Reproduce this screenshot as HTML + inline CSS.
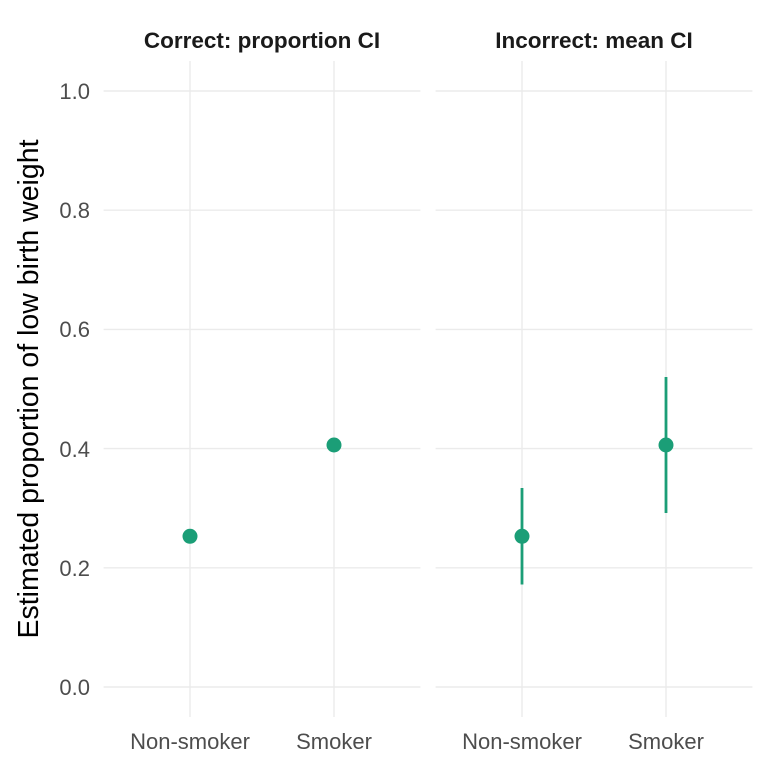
<!DOCTYPE html>
<html><head><style>body{margin:0;background:#fff}</style></head><body>
<svg width="768" height="768" xmlns="http://www.w3.org/2000/svg" font-family="Liberation Sans, sans-serif">
<rect width="768" height="768" fill="#fff"/>
<g stroke="#ebebeb" stroke-width="1.4">
<line x1="103.6" x2="420.4" y1="91" y2="91"/><line x1="103.6" x2="420.4" y1="210.2" y2="210.2"/><line x1="103.6" x2="420.4" y1="329.4" y2="329.4"/><line x1="103.6" x2="420.4" y1="448.6" y2="448.6"/><line x1="103.6" x2="420.4" y1="567.8" y2="567.8"/><line x1="103.6" x2="420.4" y1="687" y2="687"/>
<line x1="190" x2="190" y1="61" y2="717"/><line x1="334" x2="334" y1="61" y2="717"/>
<line x1="435.6" x2="752.4" y1="91" y2="91"/><line x1="435.6" x2="752.4" y1="210.2" y2="210.2"/><line x1="435.6" x2="752.4" y1="329.4" y2="329.4"/><line x1="435.6" x2="752.4" y1="448.6" y2="448.6"/><line x1="435.6" x2="752.4" y1="567.8" y2="567.8"/><line x1="435.6" x2="752.4" y1="687" y2="687"/>
<line x1="522" x2="522" y1="61" y2="717"/><line x1="666" x2="666" y1="61" y2="717"/>
</g>
<g font-size="22" fill="#4d4d4d" text-anchor="end">
<text x="90" y="99">1.0</text><text x="90" y="218">0.8</text><text x="90" y="337">0.6</text><text x="90" y="457">0.4</text><text x="90" y="576">0.2</text><text x="90" y="695">0.0</text>
</g>
<g font-size="22" fill="#4d4d4d" text-anchor="middle">
<text x="190" y="749">Non-smoker</text><text x="334" y="749">Smoker</text>
<text x="522" y="749">Non-smoker</text><text x="666" y="749">Smoker</text>
</g>
<g font-size="22.5" font-weight="bold" fill="#1a1a1a" text-anchor="middle">
<text x="262" y="48">Correct: proportion CI</text><text x="594" y="48">Incorrect: mean CI</text>
</g>
<text transform="translate(38,389) rotate(-90)" font-size="28.5" text-anchor="middle" fill="#000">Estimated proportion of low birth weight</text>
<g fill="#1b9e77" stroke="#1b9e77">
<circle cx="190" cy="536.3" r="7"/><circle cx="334" cy="445" r="7"/>
<line x1="522" x2="522" y1="488" y2="584.5" stroke-width="2.8"/><circle cx="522" cy="536.3" r="7"/>
<line x1="666" x2="666" y1="377" y2="513" stroke-width="2.8"/><circle cx="666" cy="445" r="7"/>
</g>
</svg>
</body></html>
